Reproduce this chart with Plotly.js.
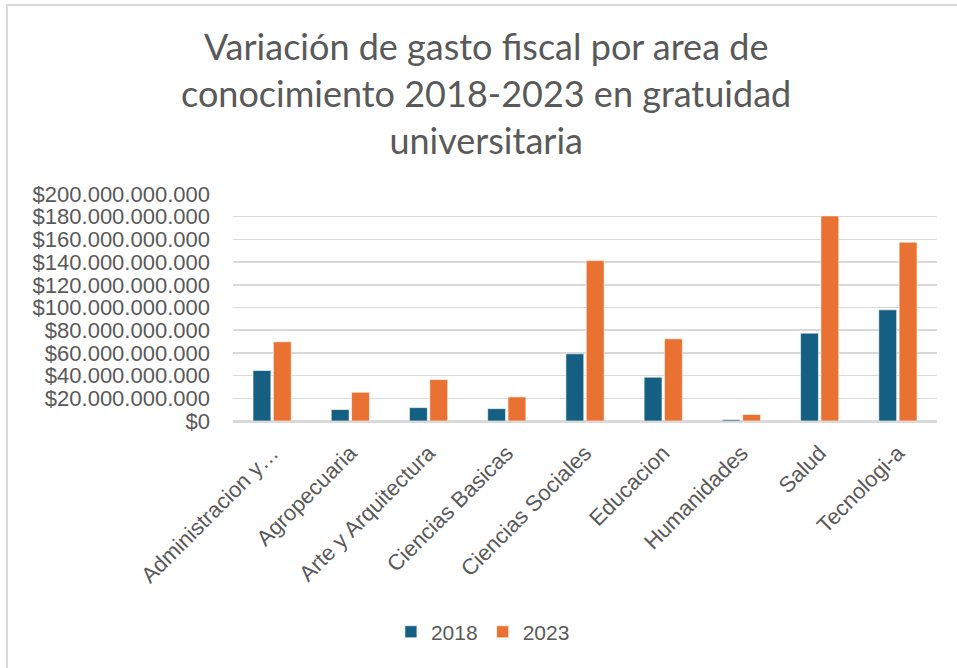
<!DOCTYPE html>
<html>
<head>
<meta charset="utf-8">
<script src="https://cdn.plot.ly/plotly-3.0.1.min.js"></script>
<style>
html,body{margin:0;padding:0;background:#fff;overflow:hidden;}
#frame{position:absolute;left:6px;top:4px;width:1000px;height:700px;border-left:2px solid #d9d9d9;border-top:2px solid #d9d9d9;pointer-events:none;}
#chart{position:absolute;left:0;top:0;width:957px;height:668px;}
</style>
</head>
<body>
<div id="chart"></div>
<div id="frame"></div>
<script>
const categories = ["Administracion y…","Agropecuaria","Arte y Arquitectura","Ciencias Basicas","Ciencias Sociales","Educacion","Humanidades","Salud","Tecnologi-a"];
const values2018 = [44500000000,10100000000,11800000000,10900000000,59200000000,38600000000,1200000000,77400000000,98000000000];
const values2023 = [69800000000,25300000000,36500000000,21200000000,141300000000,72400000000,5700000000,180700000000,157500000000];
const seriesNames = ["2018","2023"];
const tickValues = [0,20e9,40e9,60e9,80e9,100e9,120e9,140e9,160e9,180e9,200e9];
const tickLabels = ["$0","$20.000.000.000","$40.000.000.000","$60.000.000.000","$80.000.000.000","$100.000.000.000","$120.000.000.000","$140.000.000.000","$160.000.000.000","$180.000.000.000","$200.000.000.000"];
const titleText = "Variación de gasto fiscal por area de<br>conocimiento 2018-2023 en gratuidad<br>universitaria";

const font = "Liberation Sans, Arial, sans-serif";
const traces = [
  {type:"bar", name:seriesNames[0], x:categories, y:values2018,
   marker:{color:"#156082", line:{color:"#ffffff", width:0.6}}},
  {type:"bar", name:seriesNames[1], x:categories, y:values2023,
   marker:{color:"#E97132", line:{color:"#ffffff", width:0.6}}}
];
const layout = {
  width:957, height:668,
  paper_bgcolor:"#ffffff", plot_bgcolor:"#ffffff",
  separators:",.",
  margin:{l:233, r:20, t:194, b:247, pad:0},
  barmode:"group", bargap:0.48, bargroupgap:0.12,
  title:{text:titleText, x:0.508, xanchor:"center", y:0.91, yanchor:"top",
         font:{family:"Lato, Open Sans, sans-serif", size:36, color:"#595959"}},
  xaxis:{type:"category", tickangle:-45, showgrid:false, showline:true,
         linecolor:"#d9d9d9", linewidth:1.5, ticks:"", ticklabelstandoff:9,
         tickfont:{family:font, size:22, color:"#595959"}, automargin:false},
  yaxis:{range:[0,200e9], tickvals:tickValues, ticktext:tickLabels,
         showgrid:true, gridcolor:"#d9d9d9", gridwidth:1.5, zeroline:true,
         zerolinecolor:"#d9d9d9", zerolinewidth:1.5, ticks:"", ticklabelstandoff:22,
         tickfont:{family:font, size:22, color:"#595959"}, automargin:false},
  showlegend:true,
  legend:{orientation:"h", x:0.355, xanchor:"center", y:-0.93, yanchor:"middle",
          font:{family:font, size:21, color:"#595959"}, itemwidth:30, traceorder:"normal"}
};
Plotly.newPlot("chart", traces, layout, {displayModeBar:false, staticPlot:true});
</script>
</body>
</html>
